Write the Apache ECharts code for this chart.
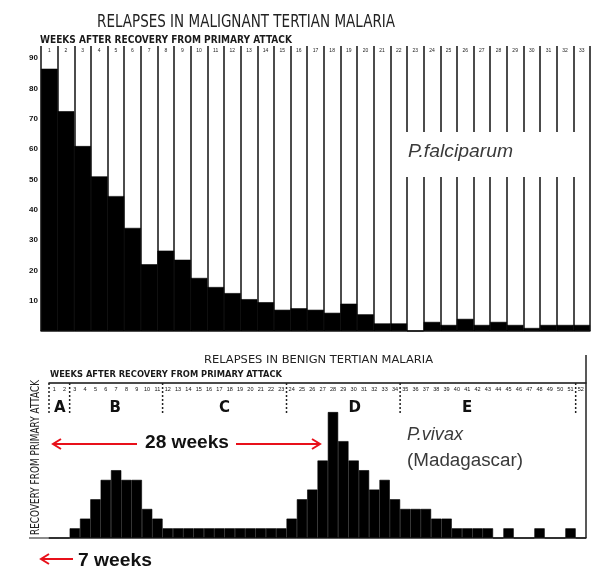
<!DOCTYPE html>
<html>
<head>
<meta charset="utf-8">
<title>Relapses in malaria</title>
<script src="https://cdn.jsdelivr.net/npm/echarts@6/dist/echarts.min.js"></script>
<style>html,body{margin:0;padding:0;background:#fff;}</style>
</head>
<body>
<div id="main" style="width:600px;height:579px;"></div>
<script type="text/javascript">
// malignant tertian (P. falciparum), weeks 1-33
var fWeeks = ['1','2','3','4','5','6','7','8','9','10','11','12','13','14','15','16','17',
              '18','19','20','21','22','23','24','25','26','27','28','29','30','31','32','33'];
var fRelapses = [86.5, 72.5, 61, 51, 44.5, 34, 22, 26.5, 23.5, 17.5, 14.5, 12.5, 10.5, 9.5, 7, 7.5, 7,
                 6, 9, 5.5, 2.5, 2.5, 0, 3, 2, 4, 2, 3, 2, 1, 2, 2, 2];

// benign tertian (P. vivax, Madagascar), weeks 1-52
var vWeeks = ['1','2','3','4','5','6','7','8','9','10','11','12','13','14','15','16','17','18',
              '19','20','21','22','23','24','25','26','27','28','29','30','31','32','33','34','35',
              '36','37','38','39','40','41','42','43','44','45','46','47','48','49','50','51','52'];
var vRelapses = [0, 0, 1, 2, 4, 6, 7, 6, 6, 3, 2,
                 1, 1, 1, 1, 1, 1, 1, 1, 1, 1, 1, 1,
                 2, 4, 5, 8, 13, 10, 8, 7, 5, 6, 4,
                 3, 3, 3, 2, 2, 1, 1, 1, 1,
                 0, 1, 0, 0, 1, 0, 0, 1, 0];

// periods A-E (boundaries and label positions in weeks)
var sectionNames = ['A', 'B', 'C', 'D', 'E'];
var sectionBounds = [0, 2, 11, 23, 34, 51];
var sectionLabelAt = [1.05, 6.4, 17, 29.6, 40.5];

var myChart = echarts.init(document.getElementById('main'));

var option = {
    backgroundColor: '#fff',
    animation: false,
    grid: [
        {left: 41, right: 10, top: 46, bottom: 248},
        {left: 49, right: 14, top: 383, bottom: 41}
    ],
    xAxis: [
        {type: 'category', gridIndex: 0, data: fWeeks, position: 'bottom',
         axisLine: {lineStyle: {color: '#222', width: 1.5}}, axisTick: {show: false},
         axisLabel: {show: false}, splitLine: {show: false}},
        {type: 'category', gridIndex: 0, data: fWeeks, position: 'top',
         axisLine: {show: false}, axisTick: {show: false},
         axisLabel: {inside: true, margin: 2, fontSize: 5, color: '#222', interval: 0},
         splitLine: {show: true, interval: 0, lineStyle: {color: '#111', width: 1.5}}},
        {type: 'category', gridIndex: 1, data: vWeeks, position: 'bottom',
         axisLine: {lineStyle: {color: '#333', width: 1.5}}, axisTick: {show: false},
         axisLabel: {show: false}, splitLine: {show: false}},
        {type: 'category', gridIndex: 1, data: vWeeks, position: 'top',
         axisLine: {show: true, lineStyle: {color: '#111', width: 1.5}}, axisTick: {show: false},
         axisLabel: {inside: true, margin: 3, fontSize: 5.5, color: '#111', interval: 0},
         splitLine: {show: false}},
        {type: 'value', gridIndex: 1, min: 0, max: 52, show: false}
    ],
    yAxis: [
        {type: 'value', gridIndex: 0, min: 0, max: 94, interval: 10,
         axisLine: {show: false}, axisTick: {show: false}, splitLine: {show: false},
         axisLabel: {margin: 3, fontSize: 8, fontWeight: 'bold', color: '#111',
             formatter: function (v) { return (v > 0 && v % 10 === 0) ? String(v) : ''; }}},
        {type: 'value', gridIndex: 1, min: 0, max: 16, show: false}
    ],
    series: [
        {type: 'bar', xAxisIndex: 0, yAxisIndex: 0, data: fRelapses, barCategoryGap: '0%',
         itemStyle: {color: '#000', borderColor: '#000', borderWidth: 0.6}, silent: true},
        {type: 'bar', xAxisIndex: 2, yAxisIndex: 1, data: vRelapses, barCategoryGap: '0%',
         itemStyle: {color: '#000', borderColor: '#000', borderWidth: 0.6}, silent: true}
    ]
};
myChart.setOption(option);

// text helpers: squeeze text to the width seen in the scan
var ctx = document.createElement('canvas').getContext('2d');
function fitScale(text, font, width) {
    ctx.font = font;
    return width / ctx.measureText(text).width;
}
function txt(text, x, y, font, width, fill, rot) {
    return {
        type: 'text', x: x, y: y, rotation: rot || 0,
        scaleX: width ? fitScale(text, font, width) : 1,
        z: 100,
        style: {text: text, font: font, fill: fill || '#1a1a1a', textAlign: 'left', textVerticalAlign: 'middle'}
    };
}
function arrow(x1, x2, y, head) {
    var d = x2 > x1 ? -head : head;
    return [
        {type: 'line', z: 100, shape: {x1: x1, y1: y, x2: x2, y2: y}, style: {stroke: '#e8101a', lineWidth: 2}},
        {type: 'polyline', z: 100, shape: {points: [[x2 + d, y - 5], [x2, y], [x2 + d, y + 5]]},
         style: {stroke: '#e8101a', lineWidth: 2, fill: null}}
    ];
}

var els = [];
// top chart
els.push(txt('RELAPSES IN MALIGNANT TERTIAN MALARIA', 97, 22, 'normal 18px "DejaVu Sans"', 298, '#222'));
els.push(txt('WEEKS AFTER RECOVERY FROM PRIMARY ATTACK', 40, 40, 'bold 10px "DejaVu Sans"', 252, '#1a1a1a'));
els.push({type: 'rect', z: 90, shape: {x: 404, y: 132, width: 184, height: 45}, style: {fill: '#fff'}});
els.push(txt('P.falciparum', 408, 152, 'italic 18px "Liberation Sans"', 105, '#3a3a3a'));

// bottom chart
var xv = function (w) { return myChart.convertToPixel({xAxisIndex: 4}, w); };
var yTop = myChart.convertToPixel({yAxisIndex: 1}, 16);
var yBase = myChart.convertToPixel({yAxisIndex: 1}, 0);

els.push(txt('RELAPSES IN BENIGN TERTIAN MALARIA', 204, 360, 'normal 11px "DejaVu Sans"', 229, '#222'));
els.push(txt('WEEKS AFTER RECOVERY FROM PRIMARY ATTACK', 50, 375, 'bold 9px "DejaVu Sans"', 232, '#1a1a1a'));
els.push(txt('RECOVERY FROM PRIMARY ATTACK', 36, 535, 'normal 12px "DejaVu Sans"', 155, '#222', Math.PI / 2));

sectionBounds.forEach(function (w) {
    els.push({type: 'line', z: 100, shape: {x1: xv(w), y1: yTop, x2: xv(w), y2: yTop + 30},
        style: {stroke: '#222', lineWidth: 1.5, lineDash: [2, 2]}});
});
sectionNames.forEach(function (n, i) {
    els.push({type: 'text', z: 100, x: xv(sectionLabelAt[i]), y: 408,
        style: {text: n, font: 'bold 15px "DejaVu Sans"', fill: '#111', textAlign: 'center', textVerticalAlign: 'middle'}});
});
// right frame line and left baseline stub
els.push({type: 'line', z: 100, shape: {x1: xv(52), y1: 355, x2: xv(52), y2: yBase}, style: {stroke: '#222', lineWidth: 1.5}});
els.push({type: 'line', z: 100, shape: {x1: 29, y1: yBase, x2: xv(0), y2: yBase}, style: {stroke: '#666', lineWidth: 1.5}});

els.push(txt('P.vivax', 407, 435, 'italic 18px "Liberation Sans"', 56, '#3a3a3a'));
els.push(txt('(Madagascar)', 407, 461, 'normal 18px "Liberation Sans"', 116, '#3a3a3a'));

// red annotations
els = els.concat(arrow(137, 53, 444, 8));
els = els.concat(arrow(236, 320, 444, 8));
els.push(txt('28 weeks', 145, 443, 'bold 18px "Liberation Sans"', 84, '#111'));
els = els.concat(arrow(73, 41, 559, 8));
els.push(txt('7 weeks', 78, 561, 'bold 18px "Liberation Sans"', 74, '#111'));

myChart.setOption({graphic: {elements: els}});
</script>
</body>
</html>
